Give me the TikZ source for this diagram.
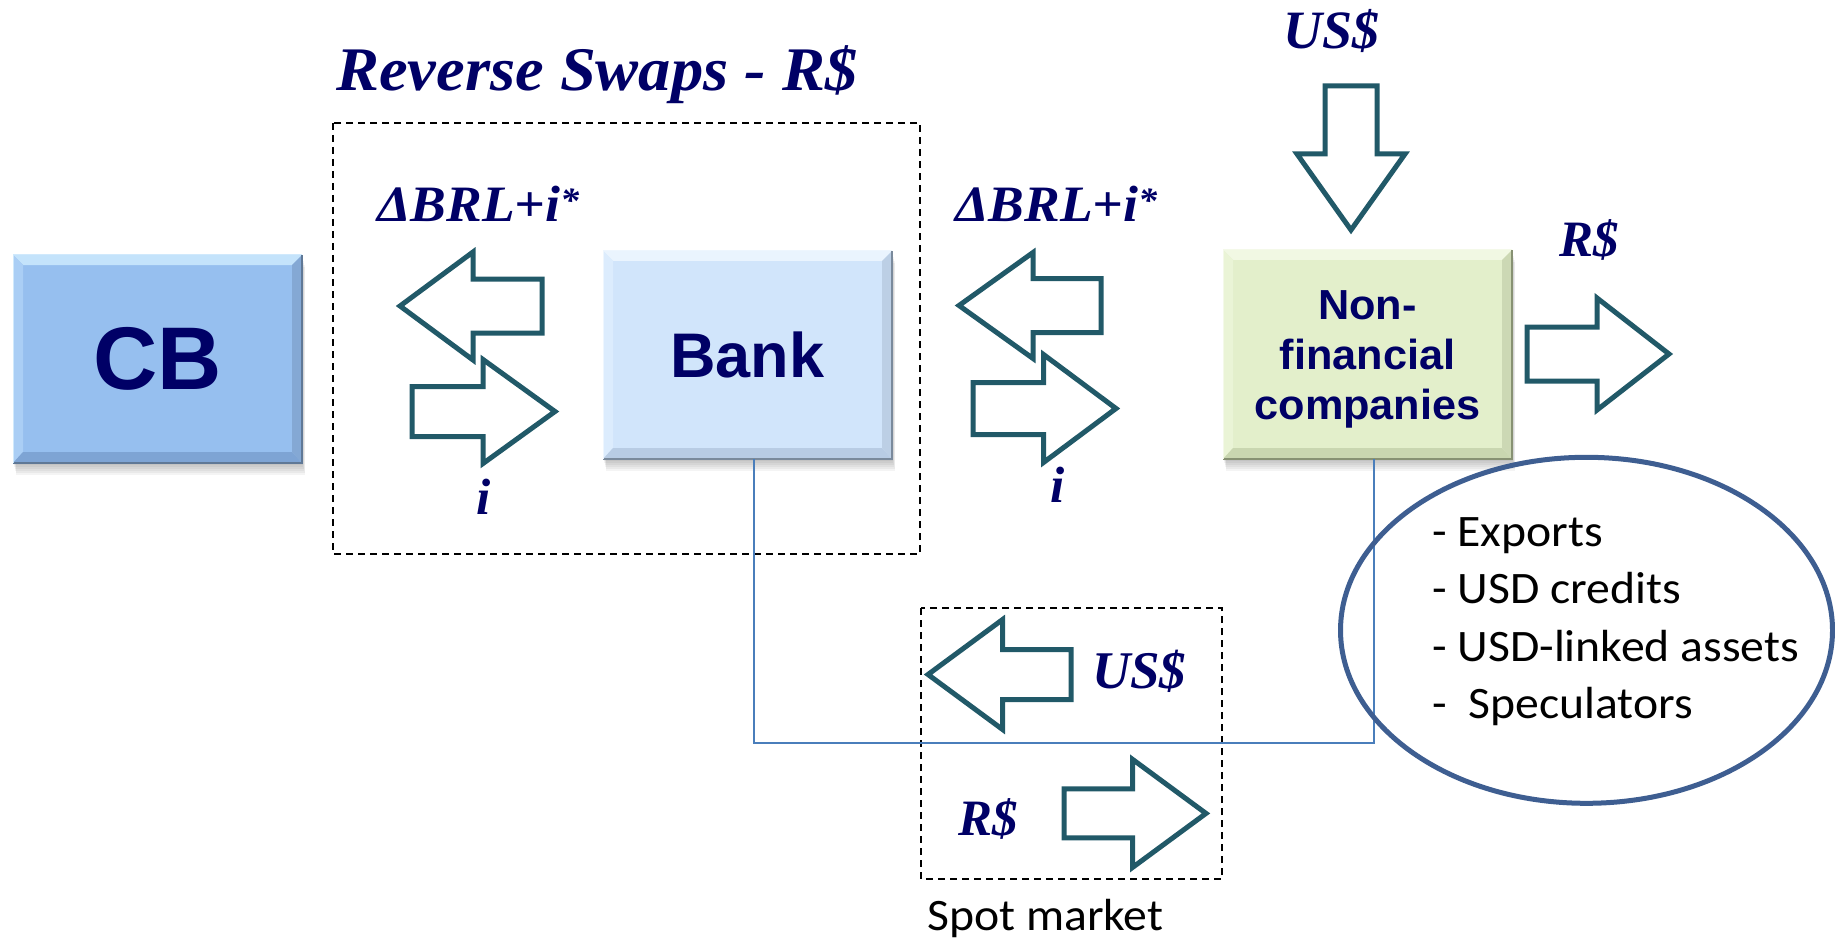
\documentclass[tikz,border=0pt]{standalone}
\usepackage{fontspec}
\usepackage{graphicx}
\setmainfont{Liberation Serif}
\newfontfamily\arialf{Liberation Sans}
\newfontfamily\calf{Carlito}
\usetikzlibrary{shapes.geometric,calc}
\definecolor{navy}{RGB}{0,0,102}
\definecolor{arrc}{RGB}{33,89,104}
\definecolor{linec}{RGB}{74,126,187}
\definecolor{ellc}{RGB}{62,94,145}
% CB colours
\definecolor{cb-fill}{RGB}{150,191,239}
\definecolor{cb-top}{RGB}{196,227,251}
\definecolor{cb-left}{RGB}{170,206,245}
\definecolor{cb-bot}{RGB}{126,164,212}
\definecolor{cb-right}{RGB}{132,168,212}
\definecolor{cb-edge}{RGB}{95,120,150}
% Bank colours
\definecolor{bk-fill}{RGB}{209,229,251}
\definecolor{bk-top}{RGB}{234,244,254}
\definecolor{bk-left}{RGB}{220,236,253}
\definecolor{bk-bot}{RGB}{184,204,228}
\definecolor{bk-right}{RGB}{188,207,229}
\definecolor{bk-edge}{RGB}{122,138,156}
% NFC colours
\definecolor{nf-fill}{RGB}{227,239,203}
\definecolor{nf-top}{RGB}{241,248,227}
\definecolor{nf-left}{RGB}{234,244,214}
\definecolor{nf-bot}{RGB}{201,214,176}
\definecolor{nf-right}{RGB}{204,216,180}
\definecolor{nf-edge}{RGB}{135,145,115}

\newcommand\fs[1]{\fontsize{#1}{#1}\selectfont}
\newcommand\xs[2]{\scalebox{#1}[1]{#2}}
% bevelled box background: x1 y1 x2 y2 colour-prefix
\newcommand\bevelbg[5]{%
  \foreach \s in {2,4,...,12} \fill[black,opacity=0.045] (#1+\s/4,#2+\s) rectangle (#3+\s/4,#4+\s);
  \fill[#5-fill] (#1,#2) rectangle (#3,#4);
  \fill[#5-top] (#1,#2) -- (#3,#2) -- (#3-10,#2+10) -- (#1+10,#2+10) -- cycle;
  \fill[#5-left] (#1,#2) -- (#1+10,#2+10) -- (#1+10,#4-11) -- (#1,#4) -- cycle;
  \fill[#5-bot] (#1,#4) -- (#1+10,#4-11) -- (#3-10,#4-11) -- (#3,#4) -- cycle;
  \fill[#5-right] (#3,#2) -- (#3-10,#2+10) -- (#3-10,#4-11) -- (#3,#4) -- cycle;
  \draw[#5-edge, line width=1.5pt] (#1,#4) -- (#3,#4) -- (#3,#2);
  \draw[#5-top!80!white, line width=1pt] (#1,#4) -- (#1,#2) -- (#3,#2);
}
% horizontal block arrow: tailx tipx cy shafthalf headhalf basex
\newcommand\harr[6]{%
  \draw[blockarr] (#1,#3-#4) -- (#6,#3-#4) -- (#6,#3-#5) -- (#2,#3) -- (#6,#3+#5) -- (#6,#3+#4) -- (#1,#3+#4) -- cycle;}
% vertical block arrow: taily tipy cx shafthalf headhalf basey
\newcommand\varr[6]{%
  \draw[blockarr] (#3-#4,#1) -- (#3-#4,#6) -- (#3-#5,#6) -- (#3,#2) -- (#3+#5,#6) -- (#3+#4,#6) -- (#3+#4,#1) -- cycle;}

\tikzset{
  blockarr/.style={draw=arrc, line width=5pt, fill=white, line join=miter, miter limit=10},
  lab/.style={text=navy, inner sep=0pt, font=\bfseries\itshape},
  dbox/.style={draw=black, line width=1.6pt, dash pattern=on 7pt off 5pt},
  conn/.style={draw=linec, line width=2pt},
  boxnode/.style={text=navy, inner sep=0pt, font=\arialf\bfseries, minimum width=289pt, minimum height=208pt, align=center},
  plain/.style={inner sep=0pt, text=black, font=\calf},
}

\begin{document}
\begin{tikzpicture}[x=1pt,y=-1pt]
\useasboundingbox (0,0) rectangle (1835,941);

% title
\node[lab, anchor=base west] (title) at (336,90.7) {\fs{62}\xs{1.04}{Reverse Swaps - R\$}};

% dashed frames
\draw[dbox] (333,123) rectangle (920,554);
\draw[dbox] (921,608) rectangle (1222,879);

% boxes
\bevelbg{13}{255}{302}{463}{cb}
\node[boxnode] (cb) at (157.5,359) {\fs{89}CB};
\bevelbg{603}{251}{892}{459}{bk}
\node[boxnode] (bank) at (747.5,355) {\fs{63}Bank};
\bevelbg{1223}{250}{1512}{459}{nf}
\node[boxnode] (nfc) at (1367.5,354.5) {};
\node[text=navy, inner sep=0pt, font=\arialf\bfseries\fontsize{42}{50}\selectfont] (nfctext) at (1367.5,359.5)
  {\xs{1.03}{\begin{tabular}{@{}c@{}}Non-\\financial\\companies\end{tabular}}};

% connector bank -> spot market -> nfc
\draw[conn] ([xshift=6.5pt]bank.south) -- ++(0,284) -| ([xshift=6.5pt]nfc.south);

% arrows
\harr{542}{400}{306}{27}{54}{473}
\harr{412}{555}{411.5}{25}{52}{483}
\harr{1101}{959}{305.5}{27}{53}{1033}
\harr{973}{1116}{408.5}{26}{54}{1043.5}
\harr{1527}{1669}{354}{27}{56}{1597}
\harr{1071}{928}{674.5}{25}{55}{1002.6}
\harr{1064}{1206}{813.4}{24.5}{54}{1132.6}
\varr{86}{230}{1351}{26}{54}{154}

% labels
\node[lab, anchor=base west] (l1) at (377,222) {\fs{51}\xs{1.05}{ΔBRL+i\textsuperscript{*}}};
\node[lab, anchor=base] (i1) at (484,514) {\fs{51}i};
\node[lab, anchor=base west] (l2) at (955,222) {\fs{51}\xs{1.05}{ΔBRL+i\textsuperscript{*}}};
\node[lab, anchor=base] (i2) at (1058,502) {\fs{51}i};
\node[lab, anchor=base west] (us1) at (1283,49) {\fs{54}US\$};
\node[lab, anchor=base west] (r1) at (1559,257) {\fs{51}R\$};
\node[lab, anchor=base west] (us2) at (1092,688) {\fs{53}US\$};
\node[lab, anchor=base west] (r2) at (958,835) {\fs{51}R\$};
\node[plain, anchor=base west] (spot) at (927,930) {\fs{45}\xs{1.06}{Spot market}};

% ellipse and list
\node[draw=ellc, line width=5pt, ellipse, minimum width=492pt, minimum height=346pt, inner sep=0pt] (grp) at (1586.5,630.3) {};
\node[plain, anchor=north west, font=\calf\fontsize{45}{57.5}\selectfont] (lst) at (1432,506)
  {\xs{1.06}{\begin{tabular}{@{}l@{}}- Exports\\- USD credits\\- USD-linked assets\\-~ Speculators\end{tabular}}};
\end{tikzpicture}
\end{document}
